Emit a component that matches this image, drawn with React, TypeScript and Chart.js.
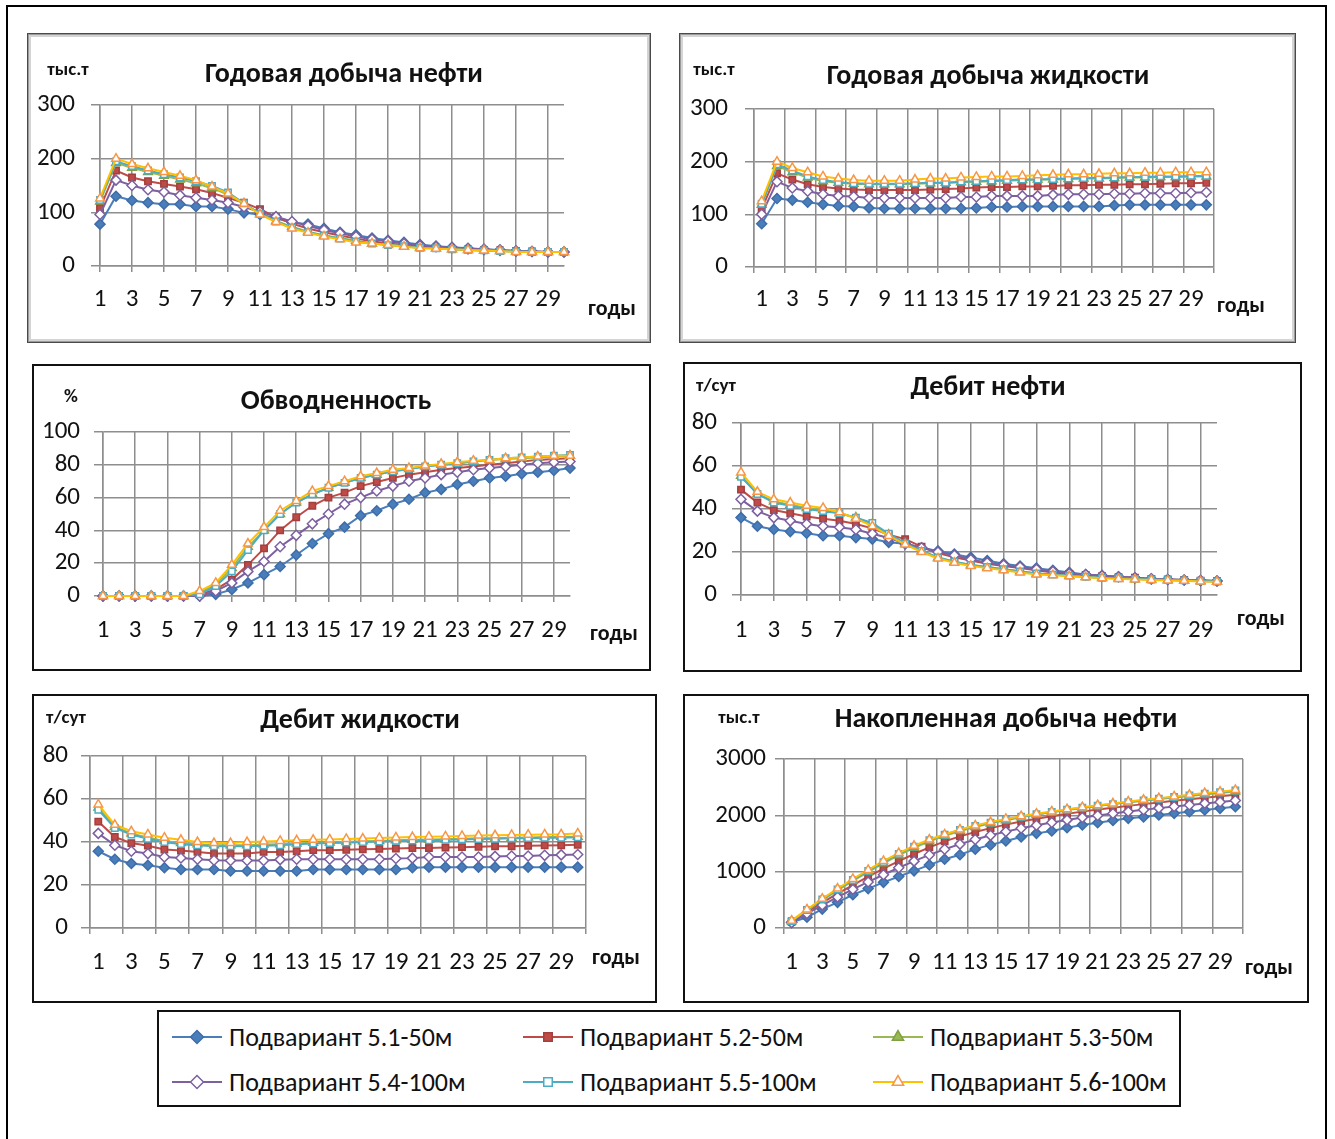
import React, { useEffect, useRef } from 'react';
import { Chart, registerables } from 'chart.js';
import { drawPoint } from 'chart.js/helpers';

Chart.register(...registerables);

const FONT = 'Carlito, Calibri, Lato, "Noto Sans", sans-serif';
const GRID = '#8e8e8e';

// categories (years)
const years = ['1','2','3','4','5','6','7','8','9','10','11','12','13','14','15','16','17','18','19','20','21','22','23','24','25','26','27','28','29','30'];

const seriesNames = ['Подвариант 5.1-50м','Подвариант 5.2-50м','Подвариант 5.3-50м','Подвариант 5.4-100м','Подвариант 5.5-100м','Подвариант 5.6-100м'];
const lineColors = ['#4A7EBB','#BE4B48','#98B954','#7D60A0','#4BACC6','#FFC000'];
const markerBorders = ['#3E6DA8','#A33F3C','#7FA043','#7D60A0','#4BACC6','#F79646'];
const markerFills = ['#4A7EBB','#BE4B48','#98B954','#FFFFFF','#FFFFFF','#FFFFFF'];
const markerStyles = ['rectRot','rect','triangle','rectRot','rect','triangle'];
const markerRadii = [5,4.5,5,5,4.5,5];

// Годовая добыча нефти, тыс.т
const oilYear: number[][] = [
  [78,130,122,118,115,115,111,111,106,99,96,89,81,78,70,63,58,52,48,44,40,37,35,33,31,30,28,27,26,26],
  [108,178,165,158,153,148,143,136,127,118,106,91,79,70,63,57,51,46,42,39,36,34,32,31,30,29,28,27,26,26],
  [120,192,183,175,168,161,154,145,133,116,97,84,73,64,57,52,47,42,40,37,34,33,31,30,29,28,27,26,26,26],
  [96,160,150,142,138,132,127,123,118,110,101,92,83,75,67,61,55,50,46,42,38,36,34,32,31,29,28,27,26,26],
  [123,195,186,178,171,165,158,149,137,117,97,83,72,63,57,51,46,42,39,37,34,33,31,30,29,28,27,26,26,26],
  [126,200,190,182,175,168,160,148,135,116,96,82,70,62,55,50,44,42,39,36,33,32,31,30,29,28,26,26,26,26],
];

// Годовая добыча жидкости, тыс.т
const liquidYear: number[][] = [
  [82,130,127,123,119,116,115,112,111,111,111,111,111,111,112,114,114,115,115,115,115,115,115,117,118,118,118,118,118,118],
  [110,178,166,157,152,149,147,146,146,146,146,147,148,149,151,152,152,153,153,154,155,155,156,156,157,157,158,159,159,160],
  [118,192,180,170,163,160,158,157,157,157,158,159,160,161,162,163,164,165,166,166,167,168,168,169,170,170,171,171,172,172],
  [100,162,150,144,138,135,134,131,131,131,131,131,131,133,133,135,135,135,135,137,138,138,138,139,139,140,140,140,141,142],
  [120,195,183,172,165,161,159,158,158,158,159,160,160,162,163,164,165,166,166,167,168,169,169,170,171,171,172,172,173,173],
  [125,200,188,180,172,168,165,164,164,164,166,168,168,170,171,172,172,173,174,175,176,176,177,178,178,179,179,180,180,180],
];

// Обводненность, %
const waterCut: number[][] = [
  [0,0,0,0,0,0,0,1,4,8,13,18,25,32,38,42,49,52,56,59,63,65,68,70,72,73,74.5,75.5,76.5,78],
  [0,0,0,0,0,0,1,4,10,19,29,40,48,55,60,63,67,69.5,72,74,75.5,77,78,79,80,81,82,83,83.5,84],
  [0,0,0,0,0,0,2,7,17,30,40,50,57,62,66,69,72,74,76,77.5,79,80,81,82,83,83.5,84,84.5,85,85.5],
  [0,0,0,0,0,0,0,3,8,15,21,30,37,44,50,56,60,64,67,70,72,74,75.5,77,78,79,80,81,81.5,82],
  [0,0,0,0,0,0,1,6,15,28,40,50,57,62,66,69,72,74,76,77.5,79,80,81,82,83,84,84.5,85,85.5,86],
  [0,0,0,0,0,0,3,8,19,32,42,52,58,64,67,70,73,75,77,78,79.5,80.5,81.5,82.5,83,84,84.5,85,85.5,85.5],
];

// Дебит нефти, т/сут
const oilRate: number[][] = [
  [36,32,30.5,29.5,28.7,27.6,27.6,26.7,26,24.5,23.8,22,20.5,19,17.5,16,14.5,13.5,12.5,11.5,10.5,9.5,9,8.5,8,7.5,7.2,7,6.7,6.5],
  [49,43,39.5,38,36.5,35.5,34.5,33,31,28,26,22.5,19.5,17.5,16,14.5,13.5,12.5,11.5,10.5,9.8,9.3,8.8,8.3,8,7.5,7.2,7,6.7,6.5],
  [55.5,47,43.5,42,40.5,39.5,38,36,33,28,24,20.5,17.5,15.5,14,13,12,11,10,9.5,9,8.5,8,7.8,7.5,7.2,7,6.8,6.5,6.3],
  [44.5,39,36,34.5,33,32,31.5,30.5,28.5,26.5,24,22,20,18.5,16.5,15,14,13,12,11,10,9.5,9,8.5,8,7.5,7.2,7,6.7,6.5],
  [55,47,43,41.5,40,39,38,36,33.5,28.5,24,20.5,17.5,15.5,14,13,12,11,10,9.5,9,8.5,8,7.8,7.5,7.2,7,6.8,6.5,6.3],
  [57,48,44.5,43,41.5,40.5,38.5,35.5,32,27.5,23.5,20,17,15,13.5,12.5,11.5,10.5,9.5,9.2,8.7,8.2,7.8,7.5,7.2,7,6.8,6.6,6.3,6.2],
];

// Дебит жидкости, т/сут
const liquidRate: number[][] = [
  [35.7,32,30,29.2,28,27.2,27.2,27.2,26.5,26.5,26.5,26.5,26.5,27.2,27.2,27.2,27.2,27.2,27.2,28,28.3,28.3,28.3,28.3,28.3,28.3,28.3,28.3,28.3,28.3],
  [49.5,42.3,39.5,38.3,36.5,36,35.4,34.6,34.6,34.6,35.4,35.4,35.7,36.2,36.2,36.4,36.6,36.8,37,37.2,37.2,37.4,37.6,37.8,38,38,38.2,38.4,38.5,38.7],
  [56,47,44,42,40.5,39.5,39,38.5,38.5,38.5,38.8,39,39.3,39.6,39.8,40,40.3,40.5,40.8,41,41.2,41.3,41.5,41.7,41.8,42,42.1,42.3,42.4,42.5],
  [44,38.5,35.7,34.6,33,32.6,32,31.5,31.4,31.4,31.4,31.8,32,32,32,32,32,32,32.3,32.5,33,33,33,33,33.3,33.5,33.5,33.8,34,34.2],
  [55,46.5,43.5,41.5,40,39,38.5,38,38,38,38.3,38.5,39,39.3,39.5,39.7,40,40.2,40.5,40.7,40.8,41,41.2,41.4,41.5,41.7,41.8,42,42,42.2],
  [57.5,48,45,43.5,42,41,40,39.5,39.5,40,40.2,40.5,40.8,41,41.2,41.4,41.6,41.9,42.1,42.3,42.5,42.6,42.8,43,43.1,43.3,43.4,43.5,43.6,44],
];

// Накопленная добыча нефти, тыс.т
const cumOil: number[][] = [
  [100,190,336,455,590,700,810,915,1015,1120,1220,1300,1400,1475,1545,1617,1680,1723,1780,1830,1870,1910,1947,1970,2006,2035,2065,2095,2124,2153],
  [108,286,451,609,762,910,1053,1188,1314,1432,1537,1627,1705,1773,1835,1890,1940,1985,2027,2066,2102,2136,2168,2199,2229,2258,2286,2313,2339,2365],
  [120,312,494,668,835,995,1148,1292,1424,1539,1636,1720,1793,1857,1914,1966,2013,2055,2095,2132,2166,2199,2230,2260,2289,2317,2344,2370,2396,2422],
  [96,256,406,548,686,818,945,1069,1187,1297,1397,1489,1571,1645,1711,1771,1825,1874,1919,1960,1998,2033,2066,2098,2128,2157,2185,2212,2238,2264],
  [125,320,505,683,853,1015,1170,1315,1445,1560,1655,1740,1810,1870,1925,1975,2020,2060,2100,2135,2170,2200,2235,2265,2295,2325,2355,2385,2410,2440],
  [130,330,520,700,870,1030,1190,1330,1460,1570,1660,1750,1820,1880,1935,1985,2030,2070,2110,2145,2180,2210,2245,2275,2305,2335,2365,2395,2420,2450],
];

type Spec = {
  frame: { x: number; y: number; w: number; h: number };
  frameStyle: 'gray' | 'black';
  area: { left: number; right: number; top: number; bottom: number };
  between: boolean;
  yMax: number; yStep: number;
  yLabelRight: number; xLabelY: number;
  data: number[][];
  title: string; titleX: number; titleY: number;
  unit: string; unitX: number; unitY: number;
  xTitleX: number; xTitleY: number;
};

const specs: Spec[] = [
  { frame: { x: 27, y: 33, w: 624, h: 310 }, frameStyle: 'gray', area: { left: 100, right: 564, top: 105, bottom: 266 }, between: false,
    yMax: 300, yStep: 100, yLabelRight: 75, xLabelY: 300, data: oilYear,
    title: 'Годовая добыча нефти', titleX: 344, titleY: 73, unit: 'тыс.т', unitX: 68, unitY: 68, xTitleX: 612, xTitleY: 308 },
  { frame: { x: 679, y: 33, w: 617, h: 310 }, frameStyle: 'gray', area: { left: 754, right: 1214, top: 109, bottom: 267 }, between: true,
    yMax: 300, yStep: 100, yLabelRight: 728, xLabelY: 300, data: liquidYear,
    title: 'Годовая добыча жидкости', titleX: 988, titleY: 75, unit: 'тыс.т', unitX: 714, unitY: 68, xTitleX: 1241, xTitleY: 305 },
  { frame: { x: 32, y: 364, w: 619, h: 307 }, frameStyle: 'black', area: { left: 103, right: 570, top: 432, bottom: 596 }, between: false,
    yMax: 100, yStep: 20, yLabelRight: 80, xLabelY: 631, data: waterCut,
    title: 'Обводненность', titleX: 336, titleY: 400, unit: '%', unitX: 71, unitY: 395, xTitleX: 614, xTitleY: 633 },
  { frame: { x: 683, y: 362, w: 619, h: 310 }, frameStyle: 'black', area: { left: 741, right: 1217, top: 423, bottom: 595 }, between: false,
    yMax: 80, yStep: 20, yLabelRight: 717, xLabelY: 631, data: oilRate,
    title: 'Дебит нефти', titleX: 988, titleY: 386, unit: 'т/сут', unitX: 716, unitY: 384, xTitleX: 1261, xTitleY: 618 },
  { frame: { x: 32, y: 694, w: 625, h: 309 }, frameStyle: 'black', area: { left: 90, right: 586, top: 756, bottom: 928 }, between: true,
    yMax: 80, yStep: 20, yLabelRight: 68, xLabelY: 963, data: liquidRate,
    title: 'Дебит жидкости', titleX: 360, titleY: 719, unit: 'т/сут', unitX: 66, unitY: 716, xTitleX: 616, xTitleY: 957 },
  { frame: { x: 683, y: 694, w: 626, h: 309 }, frameStyle: 'black', area: { left: 784, right: 1243, top: 759, bottom: 928 }, between: true,
    yMax: 3000, yStep: 1000, yLabelRight: 766, xLabelY: 963, data: cumOil,
    title: 'Накопленная добыча нефти', titleX: 1006, titleY: 718, unit: 'тыс.т', unitX: 739, unitY: 716, xTitleX: 1269, xTitleY: 967 },
];

const TICK_FONT = 25;
const Y_TICK_LEN = 9;
const X_TICK_LEN = 6;

function Panel({ spec }: { spec: Spec }) {
  const ref = useRef<HTMLCanvasElement>(null);
  useEffect(() => {
    const canvas = ref.current;
    if (!canvas) return;
    const { frame, area } = spec;
    const padTop = area.top - frame.y;
    const padRight = frame.x + frame.w - area.right;
    const yWidth = area.left - frame.x - 2;
    const xHeight = frame.y + frame.h - area.bottom - 2;
    const yPad = area.left - Y_TICK_LEN - spec.yLabelRight;
    const xPad = spec.xLabelY - area.bottom - X_TICK_LEN - (TICK_FONT * 1.2) / 2;
    const xGridColor = (ctx: any) => (ctx.index === undefined || ctx.index % 2 === 0 ? GRID : 'rgba(0,0,0,0)');
    const chart = new Chart(canvas, {
      type: 'line',
      data: {
        labels: years,
        datasets: spec.data.map((values, i) => ({
          label: seriesNames[i],
          data: values,
          borderColor: lineColors[i],
          backgroundColor: markerFills[i],
          borderWidth: 2,
          pointStyle: markerStyles[i] as any,
          pointRadius: markerRadii[i],
          pointBorderWidth: 1.5,
          pointBorderColor: markerBorders[i],
          pointBackgroundColor: markerFills[i],
          tension: 0,
          fill: false,
          clip: false as any,
          order: 6 - i,
        })),
      },
      options: {
        animation: false,
        responsive: false,
        devicePixelRatio: 1,
        layout: { padding: { left: 2, top: padTop, right: padRight, bottom: 2 } },
        plugins: { legend: { display: false }, tooltip: { enabled: false }, title: { display: false } },
        scales: {
          x: {
            type: 'category',
            offset: spec.between,
            grid: { offset: spec.between, color: xGridColor, lineWidth: 1.5, drawTicks: true, tickLength: X_TICK_LEN },
            border: { display: true, color: GRID, width: 1.5 },
            ticks: {
              autoSkip: false, maxRotation: 0, minRotation: 0, padding: xPad, color: '#111',
              font: { family: FONT, size: TICK_FONT },
              callback: (_v: any, i: number) => (i % 2 === 0 ? years[i] : ''),
            },
            afterFit: (s: any) => { s.height = xHeight; },
          },
          y: {
            min: 0, max: spec.yMax,
            grid: { color: GRID, lineWidth: 1.5, drawTicks: true, tickLength: Y_TICK_LEN },
            border: { display: true, color: GRID, width: 1.5 },
            ticks: {
              autoSkip: false,
              stepSize: spec.yStep, padding: yPad, color: '#111', font: { family: FONT, size: TICK_FONT },
              callback: (v: any) => String(v),
            },
            afterFit: (s: any) => { s.width = yWidth; },
          },
        },
      },
    });
    return () => chart.destroy();
  }, [spec]);

  const { frame } = spec;
  const frameCss: React.CSSProperties = spec.frameStyle === 'gray'
    ? { border: '1px solid #4a4a4a', boxShadow: 'inset 0 0 0 1px #9a9a9a, inset 0 0 0 3px #d4d4d4' }
    : { border: '2px solid #111' };
  const txt = (x: number, y: number, size: number, bold: boolean): React.CSSProperties => ({
    position: 'absolute', left: x, top: y, transform: 'translate(-50%, -50%)', whiteSpace: 'nowrap',
    fontFamily: FONT, fontSize: size, fontWeight: bold ? 700 : 400, color: '#111', lineHeight: 1,
  });
  return (
    <>
      <canvas ref={ref} width={frame.w} height={frame.h}
        style={{ position: 'absolute', left: frame.x, top: frame.y, width: frame.w, height: frame.h }} />
      <div style={{ position: 'absolute', left: frame.x, top: frame.y, width: frame.w, height: frame.h, boxSizing: 'border-box', pointerEvents: 'none', ...frameCss }} />
      <div style={txt(spec.titleX, spec.titleY, 28, true)}>{spec.title}</div>
      <div style={txt(spec.unitX, spec.unitY, 19, true)}>{spec.unit}</div>
      <div style={txt(spec.xTitleX, spec.xTitleY, 22, true)}>годы</div>
    </>
  );
}

function LegendMark({ i }: { i: number }) {
  const ref = useRef<HTMLCanvasElement>(null);
  useEffect(() => {
    const c = ref.current;
    if (!c) return;
    const ctx = c.getContext('2d');
    if (!ctx) return;
    ctx.clearRect(0, 0, c.width, c.height);
    ctx.strokeStyle = lineColors[i];
    ctx.lineWidth = 2;
    ctx.beginPath();
    ctx.moveTo(0, 10);
    ctx.lineTo(50, 10);
    ctx.stroke();
    ctx.fillStyle = markerFills[i];
    ctx.strokeStyle = markerBorders[i];
    ctx.lineWidth = 1.5;
    drawPoint(ctx, { pointStyle: markerStyles[i] as any, radius: markerRadii[i] + 1.5, rotation: 0, borderWidth: 1.5 } as any, 25, 10);
  }, [i]);
  return <canvas ref={ref} width={50} height={20} style={{ position: 'absolute', left: 0, top: -10, width: 50, height: 20 }} />;
}

const legendCols = [172, 523, 873];
const legendRows = [1037, 1082];

export default function App() {
  return (
    <div style={{ position: 'absolute', left: 0, top: 0, width: 1335, height: 1139, overflow: 'hidden', background: '#fff' }}>
      <div style={{ position: 'absolute', left: 6, top: 5, width: 1321, height: 1140, boxSizing: 'border-box', border: '2px solid #000' }} />
      {specs.map((s, k) => <Panel key={k} spec={s} />)}
      <div style={{ position: 'absolute', left: 157, top: 1010, width: 1024, height: 97, boxSizing: 'border-box', border: '2px solid #111' }} />
      {seriesNames.map((name, i) => {
        const col = i % 3;
        const row = Math.floor(i / 3);
        return (
          <div key={i} style={{ position: 'absolute', left: legendCols[col], top: legendRows[row], height: 0 }}>
            <LegendMark i={i} />
            <div style={{ position: 'absolute', left: 57, top: 0, transform: 'translateY(-50%)', whiteSpace: 'nowrap', fontFamily: FONT, fontSize: 26, color: '#111', lineHeight: 1 }}>{name}</div>
          </div>
        );
      })}
    </div>
  );
}
